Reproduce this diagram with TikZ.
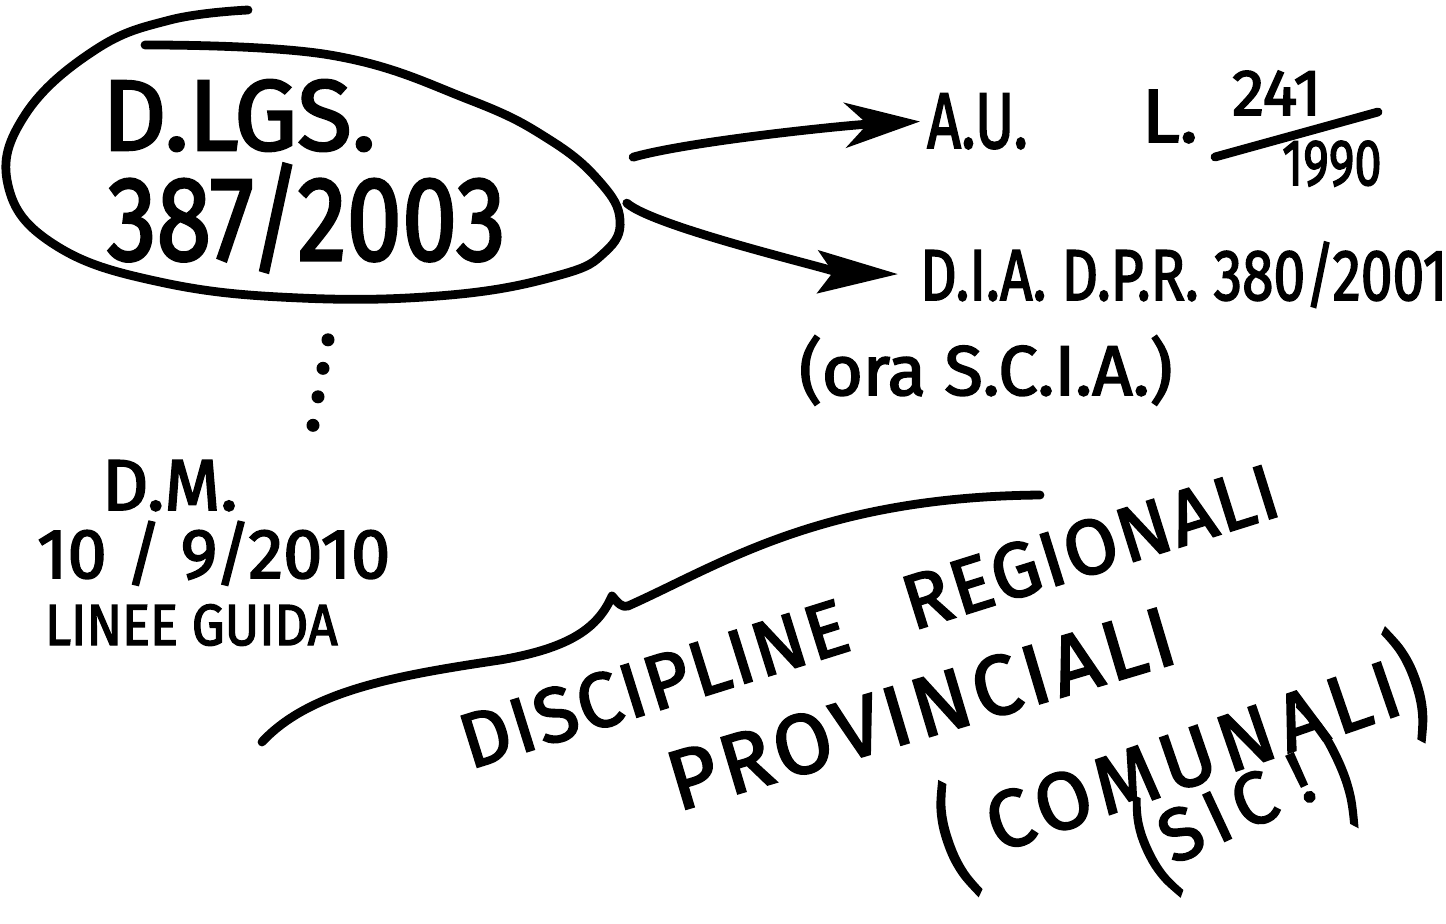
\documentclass[tikz,border=0pt]{standalone}
\usepackage{fontspec}
\usepackage{graphicx}
\usepackage{tikz}
\usetikzlibrary{shapes.geometric, arrows.meta}
\newfontfamily\hand{Fira Sans}[FakeBold=2.5]
\newcommand\tallp[1]{\raisebox{-.2em}{\scalebox{1}[1.5]{#1}}}

\begin{document}
\begin{tikzpicture}[x=0.02cm, y=-0.02cm,
    ink/.style={line width=5pt, line cap=round, line join=round},
    txt/.style={font=\hand, inner sep=1pt, anchor=base west}]
    \useasboundingbox (0,0) rectangle (1446,923);

    % D.Lgs. 387/2003
    \node[ellipse, minimum width=12.3cm, minimum height=5.1cm] (dlgs) at (312,172) {};
    \draw[ink] plot[smooth, tension=.7] coordinates {(145,45) (330,55) (470,100) (550,140)
        (600,182) (620,220) (605,252) (560,275) (450,295) (300,298) (160,282) (55,245)
        (8,185) (25,115) (95,50) (170,20) (248,10)};
    \node[txt] (dlgstitle) at (100,150) {\fontsize{57}{57}\selectfont D.LGS.};
    \node[txt] (dlgsnum) at (105,260) {\fontsize{68}{68}\selectfont\scalebox{.83}[1]{387/2003}};

    % A.U. e L. 241/1990
    \node[txt] (au) at (925,148) {\fontsize{45}{45}\selectfont\scalebox{.75}[1]{A.U.}};
    \node[txt] (lawl) at (1140,142) {\fontsize{43}{43}\selectfont L.};
    \node[txt] (lawnum) at (1230,115) {\fontsize{37}{37}\selectfont 241};
    \node[txt] (lawyear) at (1280,185) {\fontsize{37}{37}\selectfont\scalebox{.75}[1]{1990}};
    \draw[ink] (1215,157) -- (1378,112);

    % D.I.A.
    \node[txt] (dia) at (918,300) {\fontsize{41}{41}\selectfont\scalebox{.79}[1]{D.I.A.\ D.P.R. 380/2001}};
    \node[txt] (scia) at (797,395) {\fontsize{40}{40}\selectfont (ora S.C.I.A.)};

    \draw[ink, -{Stealth[length=1.5cm, width=.9cm, inset=.45cm]}, shorten <=.3cm, shorten >=.1cm]
        (dlgs.2) .. controls +(70,-20) and +(-80,4) .. (au.west);
    \draw[ink, -{Stealth[length=1.6cm, width=.85cm, inset=.3cm]}, shorten <=.3cm, shorten >=.4cm]
        (dlgs.-4) .. controls +(40,35) and +(-70,-2) .. (dia.west);

    % D.M. 10/9/2010
    \node[txt] (dm) at (100,510) {\fontsize{41}{41}\selectfont D.M.};
    \node[txt] (dmdate) at (35,578) {\fontsize{40}{40}\selectfont 10 / 9/2010};
    \node[txt] (dmguide) at (43,645) {\fontsize{33}{33}\selectfont\scalebox{.9}[1]{LINEE GUIDA}};
    \foreach \k in {0,...,3}
        \fill (dlgs.south) ++({16-5*\k},{40+28.5*\k}) circle[radius=6.5];

    % discipline locali
    \draw[ink] (262,742) .. controls (310,690) and (400,675) .. (500,660)
        .. controls (570,648) and (598,628) .. (612,596)
        .. controls (618,603) and (622,608) .. (628,606)
        .. controls (720,565) and (820,497) .. (1040,495);
    \node[txt, rotate=17.4] (regional) at (468,770)
        {\fontsize{44}{44}\selectfont\addfontfeature{LetterSpace=3}DISCIPLINE\hspace{.8em}REGIONALI};
    \node[txt, rotate=16.6] (provincial) at (676,812)
        {\fontsize{48}{48}\selectfont\addfontfeature{LetterSpace=6}PROVINCIALI};
    \node[txt, rotate=19] (communal) at (948,870)
        {\fontsize{46}{46}\selectfont\addfontfeature{LetterSpace=9}\tallp{(}\hspace{.3em}COMUNALI\tallp{)}};
    \node[txt, rotate=25] (sic) at (1150,876)
        {\fontsize{42}{42}\selectfont\addfontfeature{LetterSpace=12}\tallp{(}SIC\hspace{.3em}!\hspace{.2em}\raisebox{-.3em}{\scalebox{1}[1.9]{)}}};
\end{tikzpicture}
\end{document}
